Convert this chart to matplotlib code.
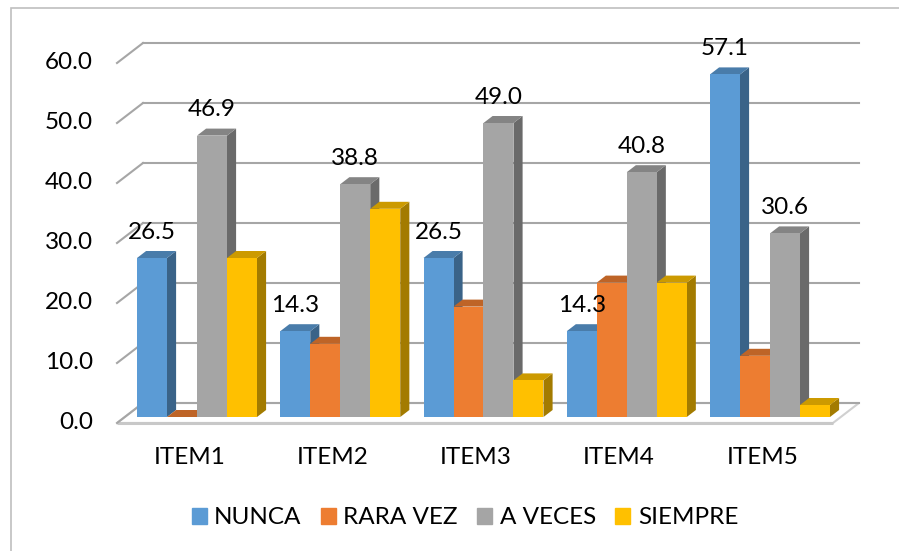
import matplotlib.pyplot as plt
import numpy as np
from matplotlib.patches import Polygon, Rectangle, Patch

items = ["ITEM1", "ITEM2", "ITEM3", "ITEM4", "ITEM5"]
series = ["NUNCA", "RARA VEZ", "A VECES", "SIEMPRE"]
nunca = [26.5, 14.3, 26.5, 14.3, 57.1]
rara_vez = [0.0, 12.2, 18.4, 22.4, 10.2]
a_veces = [46.9, 38.8, 49.0, 40.8, 30.6]
siempre = [26.5, 34.7, 6.1, 22.4, 2.0]
labelled = [True, False, True, False]   # Excel only shows labels for two series
yticks = [0, 10, 20, 30, 40, 50, 60]

colors = ["#5B9BD5", "#ED7D31", "#A5A5A5", "#FFC000"]

plt.rcParams['font.family'] = ['Lato', 'DejaVu Sans']
FS = 17.5

# fake 3d: depth of the whole box and of each bar, in data units
DX, DY = 0.1815, 3.333
bar_depth = 0.35
bx, by = DX * bar_depth, DY * bar_depth
back_x, back_y = DX * 0.7, DY * 0.7     # back wall seen from the bar plane
front_x, front_y = -DX * 0.3, -DY * 0.3  # front edge
w = 0.2094


def shade(c, f):
    r, g, b = plt.matplotlib.colors.to_rgb(c)
    return (r * f, g * f, b * f)


fig = plt.figure(figsize=(8.99, 5.51), dpi=100)
ax = fig.add_axes([0, 0, 1, 1])
ax.set_xlim(-197 / 143.25, (899 - 197) / 143.25)
ax.set_ylim((417 - 551) / 6, 417 / 6)
ax.axis('off')

# outer frame of the chart area
fig.add_artist(Rectangle((11 / 899, -0.1), 1.2, 1 - 8 / 551 + 0.1,
                         transform=fig.transFigure, fill=False,
                         ec="#BFBFBF", lw=1.2))

xl = -0.377
xr = len(items) - 1 + 0.621
grid_c = "#A6A6A6"

# floor
floor = Polygon([(xl - DX, front_y), (xr - DX, front_y),
                 (xr, back_y), (xl, back_y)],
                closed=True, fc="white", ec="#D0D0D0", lw=1.5, zorder=1)
ax.add_patch(floor)
ax.plot([xl - DX, xr - DX], [front_y, front_y], color="#C8C8C8", lw=2.2,
        zorder=1.5, solid_capstyle='butt')

for t in yticks:
    # back wall gridline + left wall slant
    ax.plot([xl, xr], [t + back_y, t + back_y], color=grid_c, lw=1.5, zorder=2)
    ax.plot([xl - DX, xl], [t + front_y, t + back_y], color=grid_c, lw=1.5, zorder=2)
    ax.text(-0.726, t + front_y, f"{t:.1f}", ha='right', va='center',
            fontsize=FS, color="#000000")

x = np.arange(len(items))
data = [nunca, rara_vez, a_veces, siempre]
offsets = (np.arange(4) - 1.5) * w

z = 3
for i in range(len(items)):
    for k in range(4):
        v = data[k][i]
        xc = x[i] + offsets[k]
        x0, x1 = xc - w / 2, xc + w / 2
        c = colors[k]
        side = Polygon([(x1, 0), (x1, v), (x1 + bx, v + by), (x1 + bx, by)],
                       closed=True, fc=shade(c, 0.64), ec='none', zorder=z)
        top = Polygon([(x0, v), (x1, v), (x1 + bx, v + by), (x0 + bx, v + by)],
                      closed=True, fc=shade(c, 0.8), ec='none', zorder=z)
        ax.add_patch(side)
        ax.add_patch(top)
        ax.bar(xc, v, width=w, bottom=0, color=c, zorder=z + 0.5)
        z += 1
        if labelled[k]:
            ax.text(xc, v + 4.33, f"{v:.1f}", ha='center', va='center',
                    fontsize=FS, zorder=100)

for i, name in enumerate(items):
    ax.text(x[i] + front_x, -6.83, name, ha='center', va='center', fontsize=FS)

handles = [Patch(color=c) for c in colors]
ax.legend(handles, series, loc='center', bbox_to_anchor=(465 / 899, 1 - 518 / 551),
          bbox_transform=fig.transFigure, ncol=4, frameon=False, fontsize=FS,
          handlelength=0.62, handleheight=0.62, handletextpad=0.3,
          columnspacing=0.8)

fig.savefig("out.png", dpi=100)
